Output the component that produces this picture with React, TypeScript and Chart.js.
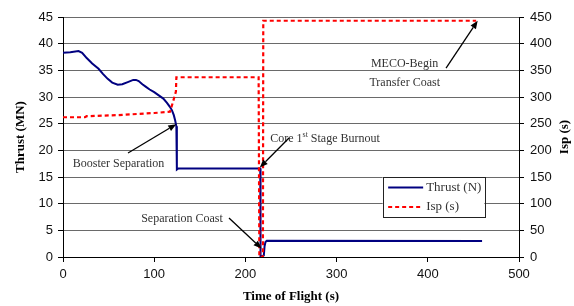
import { useEffect, useRef } from "react";
import { Chart, registerables } from "chart.js";

Chart.register(...registerables);

// ---- data ----
const thrustTime = [0, 8, 17, 21, 26, 32, 39, 44, 49, 54, 60, 65, 71, 77, 80, 83, 87, 91, 95, 100, 105, 110, 114, 117, 119.5, 121.5, 123, 124.3, 124.8, 124.9, 126.5, 216.3, 216.6, 220.2, 221, 222, 223.5, 459.5];
const thrustMN = [38.3, 38.4, 38.6, 38.3, 37.3, 36.3, 35.3, 34.3, 33.4, 32.7, 32.3, 32.4, 32.8, 33.2, 33.2, 33.0, 32.4, 31.9, 31.4, 30.9, 30.3, 29.7, 28.9, 28.2, 27.5, 26.6, 25.6, 24.5, 21, 16.4, 16.6, 16.6, 0, 0.3, 2.0, 2.8, 3.05, 3.0];

const ispTime = [0, 24, 26, 60, 100, 117.3, 120.3, 123.8, 124.3, 126, 214.5, 215.3, 219.2, 219.6, 453];
const ispSec = [262, 262, 264, 266, 270, 272.4, 289, 310, 337, 337, 337, 0, 0, 443, 443];

const seriesLabels = ["Thrust (N)", "Isp (s)"];
const xTitle = "Time of Flight (s)";
const yTitle = "Thrust (MN)";
const y2Title = "Isp (s)";

// annotation texts (positions in data units: time, thrust)
const noteTexts = [
  { text: "Booster Separation", t: 60.9, f: 17.4 },
  { text: "Core 1^st^ Stage Burnout", t: 287.3, f: 22.1 },
  { text: "Separation Coast", t: 130.5, f: 7.07 },
  { text: "MECO-Begin", t: 374.5, f: 36.3 },
  { text: "Transfer Coast", t: 374.7, f: 32.6 },
];
const noteArrows = [
  { from: [71.3, 19.5], to: [124.2, 24.9] },
  { from: [247.8, 22.3], to: [215.8, 16.8] },
  { from: [182, 7.3], to: [217.7, 1.6] },
  { from: [420, 35.4], to: [454.7, 44.3] },
];
const legendCorners = { t0: 350.5, f0: 15, t1: 462, f1: 7.45 };

const TICK_FONT = { family: "'Liberation Sans', Arial, sans-serif", size: 13 };

const overlay = {
  id: "overlay",
  afterDatasetsDraw(chart: any) {
    const ctx = chart.ctx as CanvasRenderingContext2D;
    const xs = chart.scales.x;
    const ys = chart.scales.y;
    const X = (v: number) => xs.getPixelForValue(v);
    const Y = (v: number) => ys.getPixelForValue(v);
    ctx.save();
    // annotation texts
    ctx.fillStyle = "#333";
    ctx.textBaseline = "middle";
    const baseFont = "12px 'Liberation Serif', 'Times New Roman', serif";
    const supFont = "8px 'Liberation Serif', 'Times New Roman', serif";
    for (const n of noteTexts) {
      const parts = n.text.split("^");
      let total = 0;
      parts.forEach((p, i) => {
        ctx.font = i % 2 ? supFont : baseFont;
        total += ctx.measureText(p).width;
      });
      let x = X(n.t) - total / 2;
      const y = Y(n.f);
      ctx.textAlign = "left";
      parts.forEach((p, i) => {
        ctx.font = i % 2 ? supFont : baseFont;
        ctx.fillText(p, x, i % 2 ? y - 4 : y);
        x += ctx.measureText(p).width;
      });
    }
    // arrows
    ctx.strokeStyle = "#000";
    ctx.fillStyle = "#000";
    ctx.lineWidth = 1.3;
    for (const a of noteArrows) {
      const x0 = X(a.from[0]), y0 = Y(a.from[1]);
      const x1 = X(a.to[0]), y1 = Y(a.to[1]);
      const ang = Math.atan2(y1 - y0, x1 - x0);
      const L = 8, W = 3.2;
      const bx = x1 - L * Math.cos(ang), by = y1 - L * Math.sin(ang);
      ctx.beginPath();
      ctx.moveTo(x0, y0);
      ctx.lineTo(bx, by);
      ctx.stroke();
      ctx.beginPath();
      ctx.moveTo(x1, y1);
      ctx.lineTo(bx + W * Math.sin(ang), by - W * Math.cos(ang));
      ctx.lineTo(bx - W * Math.sin(ang), by + W * Math.cos(ang));
      ctx.closePath();
      ctx.fill();
    }
    // legend
    const lx0 = X(legendCorners.t0), ly0 = Y(legendCorners.f0);
    const lx1 = X(legendCorners.t1), ly1 = Y(legendCorners.f1);
    ctx.fillStyle = "#fff";
    ctx.fillRect(lx0, ly0, lx1 - lx0, ly1 - ly0);
    ctx.strokeStyle = "#222";
    ctx.lineWidth = 1;
    ctx.strokeRect(Math.round(lx0) + 0.5, Math.round(ly0) + 0.5, Math.round(lx1 - lx0), Math.round(ly1 - ly0));
    chart.data.datasets.forEach((ds: any, i: number) => {
      const ry = ly0 + 10.4 + i * 19.6;
      ctx.beginPath();
      ctx.strokeStyle = ds.borderColor;
      ctx.lineWidth = ds.borderWidth;
      ctx.setLineDash(ds.borderDash || []);
      ctx.moveTo(lx0 + 5.5, ry);
      ctx.lineTo(lx0 + 40.5, ry);
      ctx.stroke();
      ctx.setLineDash([]);
      ctx.fillStyle = "#333";
      ctx.font = "13px 'Liberation Serif', 'Times New Roman', serif";
      ctx.textAlign = "left";
      ctx.textBaseline = "middle";
      ctx.fillText(ds.label, lx0 + 43.5, ry);
    });
    ctx.restore();
  },
  afterDraw(chart: any) {
    const ctx = chart.ctx as CanvasRenderingContext2D;
    const area = chart.chartArea;
    ctx.save();
    ctx.fillStyle = "#000";
    ctx.font = "bold 13px 'Liberation Serif', 'Times New Roman', serif";
    ctx.textAlign = "center";
    ctx.textBaseline = "middle";
    ctx.fillText(xTitle, (area.left + area.right) / 2, 297);
    const cy = (area.top + area.bottom) / 2;
    ctx.save();
    ctx.translate(21, cy);
    ctx.rotate(-Math.PI / 2);
    ctx.fillText(yTitle, 0, 0);
    ctx.restore();
    ctx.save();
    ctx.translate(565, cy);
    ctx.rotate(-Math.PI / 2);
    ctx.fillText(y2Title, 0, 0);
    ctx.restore();
    ctx.restore();
  },
};

export default function App() {
  const canvasRef = useRef<HTMLCanvasElement>(null);
  useEffect(() => {
    document.body.style.margin = "0";
    const chart = new Chart(canvasRef.current!, {
      type: "line",
      data: {
        datasets: [
          {
            label: seriesLabels[0],
            data: thrustTime.map((t, i) => ({ x: t, y: thrustMN[i] })),
            borderColor: "#000080",
            borderWidth: 2,
            pointRadius: 0,
            tension: 0,
            yAxisID: "y",
            order: 1,
          },
          {
            label: seriesLabels[1],
            data: ispTime.map((t, i) => ({ x: t, y: ispSec[i] })),
            borderColor: "#ff0000",
            borderWidth: 2.2,
            borderDash: [4, 3],
            pointRadius: 0,
            tension: 0,
            yAxisID: "y2",
            order: 0,
          },
        ],
      },
      options: {
        responsive: false,
        animation: false,
        devicePixelRatio: 1,
        layout: { padding: { top: 17, left: 0, right: 0, bottom: 0 } },
        plugins: { legend: { display: false }, tooltip: { enabled: false } },
        scales: {
          x: {
            type: "linear",
            min: 0,
            max: 500,
            ticks: { stepSize: 100, font: TICK_FONT, color: "#111", padding: 5, maxRotation: 0 },
            grid: { drawOnChartArea: false, tickLength: 5, tickColor: "#000" },
            border: { color: "#000", width: 1 },
            afterFit: (s: any) => { s.height = 49; },
          },
          y: {
            type: "linear",
            position: "left",
            min: 0,
            max: 45,
            ticks: { stepSize: 5, font: TICK_FONT, color: "#111", padding: 5 },
            grid: { color: "#6a6a6a", tickLength: 5, tickColor: "#000" },
            border: { color: "#000", width: 1 },
            afterFit: (s: any) => { s.width = 63; },
          },
          y2: {
            type: "linear",
            position: "right",
            min: 0,
            max: 450,
            ticks: { stepSize: 50, font: TICK_FONT, color: "#111", padding: 6 },
            grid: { drawOnChartArea: false, tickLength: 5, tickColor: "#000" },
            border: { color: "#000", width: 1 },
            afterFit: (s: any) => { s.width = 55; },
          },
        },
      } as any,
      plugins: [overlay],
    });
    return () => chart.destroy();
  }, []);
  return (
    <div style={{ width: 574, height: 306 }}>
      <canvas ref={canvasRef} width={574} height={306} />
    </div>
  );
}
